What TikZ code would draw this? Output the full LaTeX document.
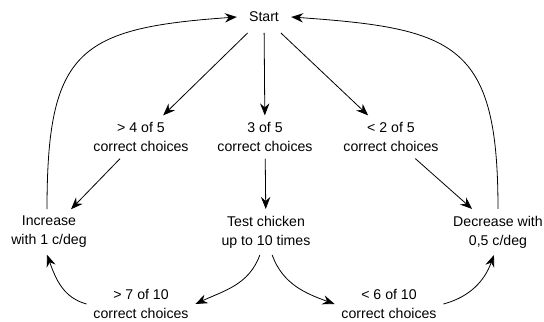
\documentclass[tikz,border=0pt]{standalone}
\usepackage{fontspec}
\setmainfont{Liberation Sans}
\usetikzlibrary{arrows.meta, positioning}

\begin{document}
\begin{tikzpicture}[
  x=0.75pt, y=0.75pt,
  lbl/.style={align=center, inner sep=5pt, font=\fontsize{10.6}{14.25}\selectfont},
  arr/.style={-{Stealth[length=9pt, width=7pt, inset=3pt]}, line width=0.6pt},
]
  \useasboundingbox (0,0) rectangle (544,322);
  % nodes
  \node[lbl, inner xsep=9pt, inner ysep=8pt] (start) at (264,305) {Start};
  \node[lbl] (gt4) at (141,185) {> 4 of 5\\correct choices};
  \node[lbl] (three) at (265,185) {3 of 5\\correct choices};
  \node[lbl] (lt2) at (391,185) {< 2 of 5\\correct choices};
  \node[lbl] (inc) at (49,90) {Increase\\with 1 c/deg};
  \node[lbl] (test) at (266,90) {Test chicken\\up to 10 times};
  \node[lbl] (dec) at (498,90) {Decrease with\\0,5 c/deg};
  \node[lbl] (gt7) at (141,18) {> 7 of 10\\correct choices};
  \node[lbl] (lt6) at (389,18) {< 6 of 10\\correct choices};
  % first test
  \draw[arr] (start) -- (gt4);
  \draw[arr] (start) -- (three);
  \draw[arr] (start) -- (lt2);
  \draw[arr] (gt4) -- (inc);
  \draw[arr] (three) -- (test);
  \draw[arr] (lt2) -- (dec);
  % second test
  \draw[arr] (test.-105) to[out=-110, in=25] (gt7.east);
  \draw[arr] (test.-75) to[out=-70, in=160] (lt6.west);
  \draw[arr] (gt7.west) to[out=165, in=-70] (inc.-95);
  \draw[arr] (lt6.east) to[out=15, in=-110] (dec.-100);
  % back to start
  \draw[arr] (inc.95) to[out=90, in=184, looseness=1.5] (start.west);
  \draw[arr] (dec.north) to[out=90, in=-4, looseness=1.5] (start.east);
\end{tikzpicture}
\end{document}
